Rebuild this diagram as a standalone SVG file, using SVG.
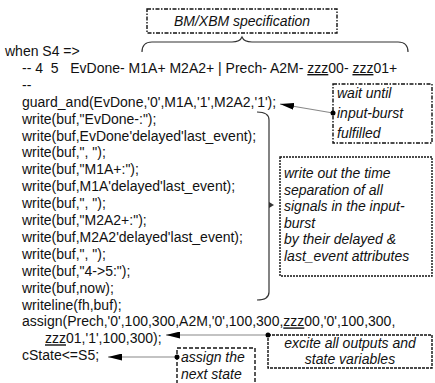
<svg xmlns="http://www.w3.org/2000/svg" width="435" height="383" viewBox="0 0 435 383">
<style>
.code{font-family:"Liberation Sans",Arial,sans-serif;font-size:14px;fill:#111;}
.note{font-family:"Liberation Sans",Arial,sans-serif;font-size:14px;font-style:italic;fill:#111;}
.u{text-decoration:underline;}
.box{fill:none;stroke:#111;stroke-width:1.4;}
.dd{stroke-dasharray:4 1.5 1.5 1.5;}
.dot{stroke-dasharray:2 1;}
.dsh{stroke-dasharray:3 1;}
.dl{stroke-dasharray:4 2;}
.conn{fill:none;stroke:#888;stroke-width:1.2;}
.br{fill:none;stroke:#333;stroke-width:1.2;}
</style>
<defs>
<marker id="ah" viewBox="0 0 14 7" markerWidth="14" markerHeight="7" refX="14" refY="3.5" orient="auto" markerUnits="userSpaceOnUse">
<path d="M0,0 L14,3.5 L0,7 z" fill="#000"/>
</marker>
<marker id="dt" viewBox="0 0 6 6" markerWidth="6" markerHeight="6" refX="3" refY="3" markerUnits="userSpaceOnUse">
<circle cx="3" cy="3" r="2.5" fill="#000"/>
</marker>
</defs>
<rect width="435" height="383" fill="#fff"/>

<g id="title">
<rect class="box dd" x="147" y="9" width="190" height="24"/>
<text class="note" x="242" y="26" text-anchor="middle">BM/XBM specification</text>
</g>

<g id="code">
<text class="code" x="5" y="56">when S4 =&gt;</text>
<text class="code" x="22" y="73" xml:space="preserve">-- 4  5   EvDone- M1A+ M2A2+ | Prech- A2M- <tspan class="u">zzz</tspan>00- <tspan class="u">zzz</tspan>01+</text>
<text class="code" x="22" y="90">--</text>
<text class="code" x="22" y="106.7">guard_and(EvDone,'0',M1A,'1',M2A2,'1');</text>
<text class="code" x="22" y="123.6">write(buf,"EvDone-:");</text>
<text class="code" x="22" y="140.5">write(buf,EvDone'delayed'last_event);</text>
<text class="code" x="22" y="157.4" xml:space="preserve">write(buf,", ");</text>
<text class="code" x="22" y="174.3">write(buf,"M1A+:");</text>
<text class="code" x="22" y="191.2">write(buf,M1A'delayed'last_event);</text>
<text class="code" x="22" y="208.1" xml:space="preserve">write(buf,", ");</text>
<text class="code" x="22" y="225">write(buf,"M2A2+:");</text>
<text class="code" x="22" y="241.9">write(buf,M2A2'delayed'last_event);</text>
<text class="code" x="22" y="258.8" xml:space="preserve">write(buf,", ");</text>
<text class="code" x="22" y="275.7">write(buf,"4-&gt;5:");</text>
<text class="code" x="22" y="292.6">write(buf,now);</text>
<text class="code" x="22" y="309.5">writeline(fh,buf);</text>
<text class="code" x="22" y="326.4">assign(Prech,'0',100,300,A2M,'0',100,300,<tspan class="u">zzz</tspan>00,'0',100,300,</text>
<text class="code" x="45" y="343.3"><tspan class="u">zzz</tspan>01,'1',100,300);</text>
<text class="code" x="22" y="360.2">cState&lt;=S5;</text>
</g>

<g id="note-wait">
<rect class="box dd" x="333" y="84" width="99" height="59"/>
<text class="note" x="337" y="98">wait until</text>
<text class="note" x="337" y="118">input-burst</text>
<text class="note" x="337" y="138">fulfilled</text>
</g>

<g id="note-write">
<rect class="box dot" x="280" y="157" width="152" height="119"/>
<text class="note" x="284" y="178">write out the time</text>
<text class="note" x="284" y="194.5">separation of all</text>
<text class="note" x="284" y="211">signals in the input-</text>
<text class="note" x="284" y="227.5">burst</text>
<text class="note" x="284" y="244">by their delayed &amp;</text>
<text class="note" x="284" y="260.5">last_event attributes</text>
</g>

<g id="note-excite">
<rect class="box dsh" x="268" y="335" width="164" height="33"/>
<text class="note" x="350" y="348" text-anchor="middle">excite all outputs and</text>
<text class="note" x="350" y="364" text-anchor="middle">state variables</text>
</g>

<g id="note-assign">
<rect class="box dl" x="177" y="348" width="78" height="45"/>
<text class="note" x="181" y="362">assign the</text>
<text class="note" x="181" y="379">next state</text>
</g>

<g id="connectors">
<path class="br" d="M142,52 Q142,42 152,42 L232,42 Q240,42 242,37 Q244,42 252,42 L398,42 Q408,42 408,52"/>
<path class="br" d="M257,112 Q269,112 269,120 L269,292 Q269,300 257,300"/>
<path d="M269,202 L274,205 L269,208 z" fill="#333"/>
<line class="conn" x1="333" y1="113" x2="280" y2="104" marker-start="url(#dt)" marker-end="url(#ah)"/>
<line class="conn" x1="268" y1="335" x2="166" y2="335" marker-start="url(#dt)" marker-end="url(#ah)"/>
<line class="conn" x1="177" y1="357" x2="108" y2="357" marker-start="url(#dt)" marker-end="url(#ah)"/>
</g>
</svg>
